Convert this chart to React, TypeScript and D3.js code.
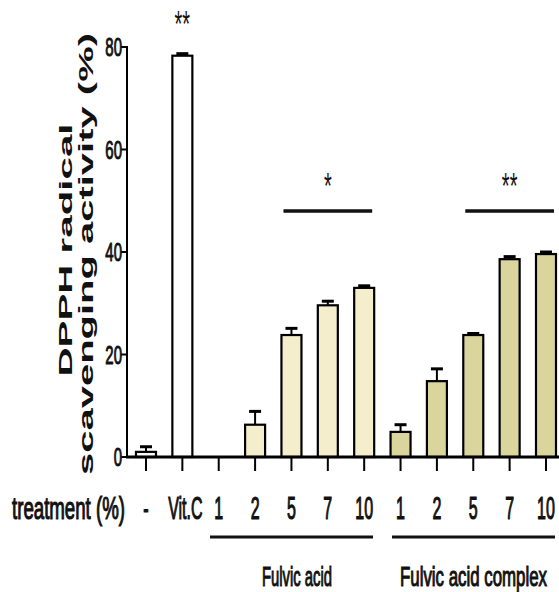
import React from "react";
import * as d3 from "d3";

const categories = ["-", "Vit.C", "FA1", "FA2", "FA5", "FA7", "FA10", "FAC1", "FAC2", "FAC5", "FAC7", "FAC10"];
const tickLabels = ["-", "Vit.C", "1", "2", "5", "7", "10", "1", "2", "5", "7", "10"];
const means = [1.0, 78.3, 0, 6.3, 23.8, 29.6, 33.0, 4.9, 14.8, 23.8, 38.6, 39.6];
const errors = [1.0, 0.4, 0, 2.6, 1.3, 0.8, 0.4, 1.4, 2.4, 0.3, 0.5, 0.4];
const groups = ["control", "control", "fa", "fa", "fa", "fa", "fa", "fac", "fac", "fac", "fac", "fac"];
const yTicks = [0, 20, 40, 60, 80];
const groupLabels = ["Fulvic acid", "Fulvic acid complex"];
const sigGroups = [
  { from: "FA5", to: "FA10", label: "*" },
  { from: "FAC5", to: "FAC10", label: "**" },
];

const fillFor: Record<string, string> = { control: "#ffffff", fa: "#f4eecc", fac: "#d9d59d" };
const FONT = "'Liberation Sans', Arial, sans-serif";

type TProps = { x: number; y: number; size: number; sy: number; anchor?: string; len?: number; children: React.ReactNode };
function Tall({ x, y, size, sy, anchor = "start", len, children }: TProps) {
  return (
    <g transform={`translate(${x},${y}) scale(1,${sy})`}>
      <text
        textAnchor={anchor}
        fontFamily={FONT}
        fontSize={size}
        fill="#111"
        stroke="#111"
        strokeWidth={0.6}
        {...(len ? { textLength: len, lengthAdjust: "spacingAndGlyphs" } : {})}
      >
        {children}
      </text>
    </g>
  );
}

export default function App() {
  const W = 559, H = 592;
  const x = d3.scalePoint<string>().domain(categories).range([146, 546]);
  const y = d3.scaleLinear().domain([0, 80]).range([457, 47]);
  const axisX = 127;
  const barW = 20;
  const sigY = 211;

  const stars = (cx: number, cy: number, label: string, key: string) => (
    <g key={key} transform={`translate(${cx},${cy}) scale(1,1.8)`}>
      <text textAnchor="middle" fontFamily={FONT} fontSize={20} fill="#111">{label}</text>
    </g>
  );

  return (
    <svg width={W} height={H} style={{ position: "absolute", left: 0, top: 0, background: "#fff" }}>
      <rect width={W} height={H} fill="#fff" />
      {/* bars */}
      {categories.map((c, i) => {
        const cx = x(c)!;
        const v = means[i];
        if (v <= 0) return null;
        const top = y(v);
        const et = y(v + errors[i]);
        return (
          <g key={c}>
            <line x1={cx} x2={cx} y1={top} y2={et} stroke="#000" strokeWidth={2} />
            <line x1={cx - 6} x2={cx + 6} y1={et} y2={et} stroke="#000" strokeWidth={3} />
            <rect x={cx - barW / 2} y={top} width={barW} height={y(0) - top} fill={fillFor[groups[i]]} stroke="#000" strokeWidth={2.2} />
          </g>
        );
      })}
      {/* y axis */}
      <line x1={axisX} x2={axisX} y1={y(80) - 1} y2={y(0)} stroke="#000" strokeWidth={2} />
      {yTicks.map((t) => (
        <g key={t}>
          <line x1={axisX - 6} x2={axisX} y1={y(t)} y2={y(t)} stroke="#000" strokeWidth={2} />
          <Tall x={axisX - 5} y={y(t) + 9} size={15} sy={1.7} anchor="end">{t}</Tall>
        </g>
      ))}
      {/* x axis */}
      <line x1={axisX - 1} x2={W} y1={y(0)} y2={y(0)} stroke="#000" strokeWidth={3} />
      {categories.map((c, i) => (
        <g key={"t" + c}>
          <line x1={x(c)!} x2={x(c)!} y1={y(0)} y2={y(0) + 14} stroke="#000" strokeWidth={2} />
          <Tall x={x(c)! + (tickLabels[i] === "Vit.C" ? 3 : 0)} y={519} size={16} sy={1.95} anchor="middle">{tickLabels[i]}</Tall>
        </g>
      ))}
      <Tall x={12} y={519} size={16} sy={1.95} len={113}>treatment (%)</Tall>
      {/* group lines */}
      <line x1={210} x2={373} y1={537} y2={537} stroke="#111" strokeWidth={3} />
      <line x1={392} x2={555} y1={537} y2={537} stroke="#111" strokeWidth={3} />
      <Tall x={262} y={586} size={15} sy={1.85} len={70}>{groupLabels[0]}</Tall>
      <Tall x={400} y={586} size={15} sy={1.85} len={147}>{groupLabels[1]}</Tall>
      {/* significance */}
      {sigGroups.map((s, i) => {
        const x1 = x(s.from)! - 8, x2 = x(s.to)! + 8;
        return (
          <g key={"s" + i}>
            <line x1={x1} x2={x2} y1={sigY} y2={sigY} stroke="#111" strokeWidth={3.5} />
            {stars((x1 + x2) / 2, 199, s.label, "st" + i)}
          </g>
        );
      })}
      {stars(x("Vit.C")!, 37, "**", "vc")}
      {/* y title */}
      <g transform="translate(72,250) rotate(-90)">
        <text textAnchor="middle" fontFamily={FONT} fontWeight="bold" fontSize={19} textLength={253} lengthAdjust="spacingAndGlyphs" fill="#111">DPPH radical</text>
      </g>
      <g transform="translate(93,254) rotate(-90)">
        <text textAnchor="middle" fontFamily={FONT} fontWeight="bold" fontSize={21} textLength={442} lengthAdjust="spacingAndGlyphs" fill="#111">scavenging activity (%)</text>
      </g>
    </svg>
  );
}
